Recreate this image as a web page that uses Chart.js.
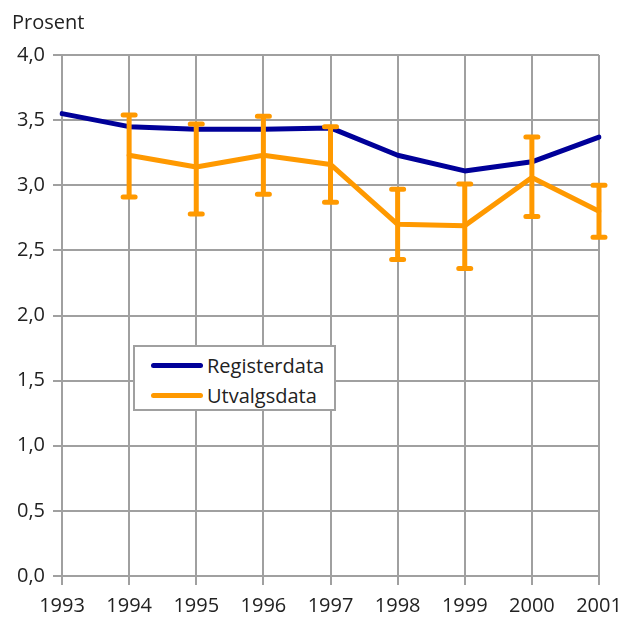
<!DOCTYPE html>
<html lang="no">
<head>
  <meta charset="UTF-8" />
  <title>Registerdata og utvalgsdata</title>
  <script src="https://cdn.jsdelivr.net/npm/chart.js"></script>
  <style>
    *{margin:0;padding:0;box-sizing:border-box}
    html,body{width:621px;height:617px;background:#fff;font-family:"Open Sans",sans-serif;overflow:hidden}
    .wrap{position:relative;width:621px;height:617px}
    .unit{position:absolute;left:12px;top:8px;font-size:20px;color:#222}
    .legend{position:absolute;left:133px;top:345px;width:203px;height:66px;background:#fff;
      border:2px solid #a0a0a0;padding:3px 0 0 16px;font-size:20px;color:#222}
    .legend div{display:flex;align-items:center;height:30px}
    .legend span.line{display:inline-block;width:52px;height:5px;border-radius:3px;margin-right:4px}
  </style>
</head>
<body>
<div class="wrap">
  <canvas id="chart" width="621" height="617"></canvas>
  <div class="unit">Prosent</div>
  <div class="legend">
    <div><span class="line" style="background:#000099"></span>Registerdata</div>
    <div><span class="line" style="background:#ff9900"></span>Utvalgsdata</div>
  </div>
</div>
<script>
  const years = ['1993','1994','1995','1996','1997','1998','1999','2000','2001'];
  const registerdata = [3.55, 3.45, 3.43, 3.43, 3.44, 3.23, 3.11, 3.18, 3.37];
  const utvalgsdata  = [null, 3.23, 3.14, 3.23, 3.16, 2.70, 2.69, 3.06, 2.80];
  const errHigh      = [null, 3.54, 3.47, 3.53, 3.45, 2.97, 3.01, 3.37, 3.00];
  const errLow       = [null, 2.91, 2.78, 2.93, 2.87, 2.43, 2.36, 2.76, 2.60];

  const grey = '#a0a0a0';

  // error bars for utvalgsdata
  const errorBars = {
    id: 'errorBars',
    afterDatasetsDraw(chart) {
      const c = chart.ctx, x = chart.scales.x, y = chart.scales.y;
      c.save();
      c.strokeStyle = '#ff9900';
      c.lineWidth = 5;
      c.lineCap = 'round';
      errHigh.forEach((hi, i) => {
        if (hi == null) return;
        const px = x.getPixelForValue(i);
        const top = y.getPixelForValue(hi), bot = y.getPixelForValue(errLow[i]);
        c.beginPath();
        c.moveTo(px, top); c.lineTo(px, bot);
        c.moveTo(px - 6, top); c.lineTo(px + 6, top);
        c.moveTo(px - 6, bot); c.lineTo(px + 6, bot);
        c.stroke();
      });
      c.restore();
    }
  };

  new Chart(document.getElementById('chart'), {
    type: 'line',
    data: {
      labels: years,
      datasets: [
        { label: 'Utvalgsdata', data: utvalgsdata, borderColor: '#ff9900', borderWidth: 5,
          pointRadius: 0, tension: 0, borderJoinStyle: 'round', borderCapStyle: 'round' },
        { label: 'Registerdata', data: registerdata, borderColor: '#000099', borderWidth: 5,
          pointRadius: 0, tension: 0, borderJoinStyle: 'round', borderCapStyle: 'round' }
      ]
    },
    options: {
      responsive: false,
      animation: false,
      layout: { padding: { top: 55, right: 22, left: 0, bottom: 0 } },
      plugins: { legend: { display: false }, tooltip: { enabled: false } },
      scales: {
        x: {
          offset: false,
          grid: { color: grey, lineWidth: 2, tickLength: 9, tickColor: grey },
          border: { color: grey, width: 2 },
          ticks: { color: '#222', font: { family: 'Open Sans', size: 20 }, padding: 9, maxRotation: 0, autoSkip: false },
          afterFit(s) { s.height = 41; s.paddingLeft = 0; s.paddingRight = 0; }
        },
        y: {
          min: 0, max: 4,
          grid: { color: grey, lineWidth: 2, tickLength: 9, tickColor: grey },
          border: { color: grey, width: 2 },
          ticks: { stepSize: 0.5, color: '#222', font: { family: 'Open Sans', size: 20 }, padding: 8,
            callback: v => v.toFixed(1).replace('.', ',') },
          afterFit(s) { s.width = 62; }
        }
      }
    },
    plugins: [errorBars]
  });
</script>
</body>
</html>
